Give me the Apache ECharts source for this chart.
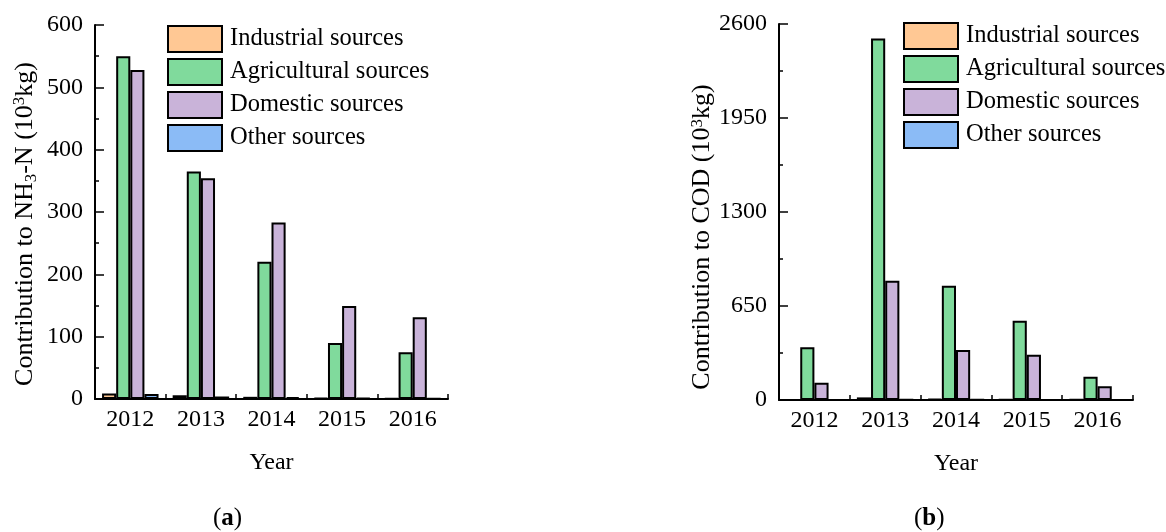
<!DOCTYPE html>
<html>
<head>
<meta charset="utf-8">
<script src="https://cdn.jsdelivr.net/npm/echarts@6/dist/echarts.min.js"></script>
<style>
  html, body { margin: 0; padding: 0; background: #fff; }
  #chart { width: 1166px; height: 532px; }
</style>
</head>
<body>
<div id="chart"></div>
<script>
// Pollution source contributions by year
const years = ['2012', '2013', '2014', '2015', '2016'];
const sourceNames = ['Industrial sources', 'Agricultural sources', 'Domestic sources', 'Other sources'];
const sourceColors = ['#FFC894', '#80DA9C', '#C9B3D9', '#8BBBF6'];

// Contribution to NH3-N (10^3 kg)
const nh3Industrial = [9, 6, 3.5, 1.5, 1];
const nh3Agricultural = [550, 365, 220, 90, 75];
const nh3Domestic = [528, 354, 283, 149, 131];
const nh3Other = [8, 4, 3, 1.5, 1];

// Contribution to COD (10^3 kg)
const codIndustrial = [1, 18, 6, 3, 2];
const codAgricultural = [365, 2500, 790, 548, 161];
const codDomestic = [120, 825, 346, 313, 95];
const codOther = [1, 3, 2, 1, 1];

const nh3Ticks = { min: 0, max: 600, interval: 100 };
const codTicks = { min: 0, max: 2600, interval: 650 };

const FONT = "'Liberation Serif', 'Times New Roman', serif";

const chart = echarts.init(document.getElementById('chart'));

function xAxisFor(gridIndex) {
  return {
    type: 'category',
    gridIndex: gridIndex,
    data: years,
    name: 'Year',
    nameLocation: 'middle',
    nameGap: 52,
    nameTextStyle: { fontFamily: FONT, fontSize: 24, color: '#000' },
    axisLine: { show: true, lineStyle: { color: '#000', width: 2 } },
    axisTick: { show: true, inside: true, length: 5, alignWithLabel: false, lineStyle: { color: '#000', width: 1.5 } },
    axisLabel: { fontFamily: FONT, fontSize: 24, color: '#000', margin: 9 },
    splitLine: { show: false }
  };
}

function yAxisFor(gridIndex, ticks, nameRich, nameGap, shift) {
  return {
    type: 'value',
    gridIndex: gridIndex,
    min: ticks.min,
    max: ticks.max,
    interval: ticks.interval,
    name: nameRich,
    nameLocation: 'middle',
    nameGap: nameGap,
    nameRotate: 90,
    nameTextStyle: {
      fontFamily: FONT, fontSize: 26, color: '#000',
      padding: [0, shift, 0, 0],
      rich: {
        sub: { fontFamily: FONT, fontSize: 17, color: '#000', verticalAlign: 'bottom', padding: [12, 0, 0, 0] },
        sup: { fontFamily: FONT, fontSize: 17, color: '#000', verticalAlign: 'top', padding: [0, 0, 9, 0] }
      }
    },
    axisLine: { show: true, lineStyle: { color: '#000', width: 2 } },
    axisTick: { show: true, inside: true, length: 9, lineStyle: { color: '#000', width: 1.5 } },
    minorTick: { show: true, splitNumber: 2, length: 4, lineStyle: { color: '#000', width: 1.5 } },
    axisLabel: { fontFamily: FONT, fontSize: 24, color: '#000', margin: 12, formatter: function (v) { return String(v); } },
    splitLine: { show: false }
  };
}

function barSeries(name, data, idx, axisIndex) {
  return {
    type: 'bar',
    name: name,
    data: data,
    xAxisIndex: axisIndex,
    yAxisIndex: axisIndex,
    barGap: '0%',
    barCategoryGap: '20%',
    itemStyle: { color: sourceColors[idx], borderColor: '#000', borderWidth: 2 },
    emphasis: { disabled: true }
  };
}

function legendAt(left, top) {
  return {
    orient: 'vertical',
    left: left,
    top: top,
    padding: 0,
    itemWidth: 54,
    itemHeight: 26,
    itemGap: 5,
    icon: 'rect',
    data: sourceNames,
    itemStyle: { borderColor: '#000', borderWidth: 2 },
    textStyle: { fontFamily: FONT, fontSize: 24.5, color: '#000', padding: [0, 0, 0, 3] }
  };
}

const option = {
  backgroundColor: '#fff',
  animation: false,
  legend: [legendAt(167, 25), legendAt(903, 22)],
  grid: [
    { left: 95, top: 25, width: 353, height: 374 },
    { left: 779, top: 24, width: 354, height: 376 }
  ],
  xAxis: [xAxisFor(0), xAxisFor(1)],
  yAxis: [
    yAxisFor(0, nh3Ticks, 'Contribution to NH{sub|3}-N (10{sup|3}kg)', 55, 24),
    yAxisFor(1, codTicks, 'Contribution to COD (10{sup|3}kg)', 64, 50)
  ],
  series: [
    barSeries(sourceNames[0], nh3Industrial, 0, 0),
    barSeries(sourceNames[1], nh3Agricultural, 1, 0),
    barSeries(sourceNames[2], nh3Domestic, 2, 0),
    barSeries(sourceNames[3], nh3Other, 3, 0),
    barSeries(sourceNames[0], codIndustrial, 0, 1),
    barSeries(sourceNames[1], codAgricultural, 1, 1),
    barSeries(sourceNames[2], codDomestic, 2, 1),
    barSeries(sourceNames[3], codOther, 3, 1)
  ],
  graphic: [
    {
      type: 'text', left: 213, top: 506,
      style: { text: '({b|a})', font: '25px ' + FONT, fill: '#000',
        rich: { b: { fontFamily: FONT, fontSize: 25, fontWeight: 'bold', fill: '#000' } } }
    },
    {
      type: 'text', left: 914, top: 506,
      style: { text: '({b|b})', font: '25px ' + FONT, fill: '#000',
        rich: { b: { fontFamily: FONT, fontSize: 25, fontWeight: 'bold', fill: '#000' } } }
    }
  ]
};

chart.setOption(option);
</script>
</body>
</html>
